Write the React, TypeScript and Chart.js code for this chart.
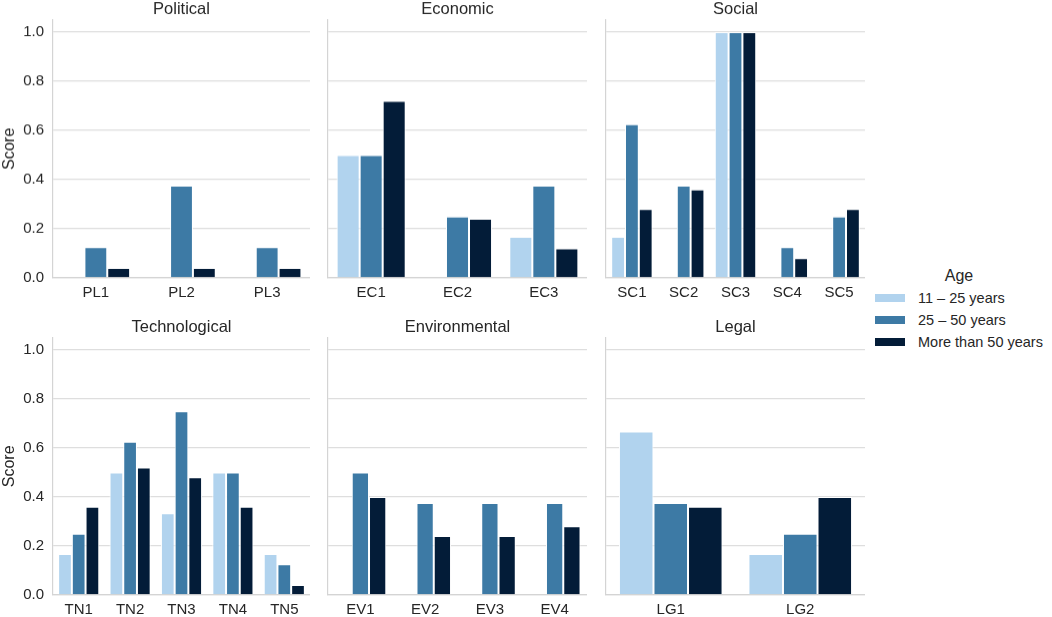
import { useEffect, useRef } from 'react';
import { Chart, registerables } from 'chart.js';

Chart.register(...registerables);

// Age groups (hue) and their colours
const ageGroups = ['11 – 25 years', '25 – 50 years', 'More than 50 years'];
const ageColors = ['#b1d3ee', '#3d7aa5', '#031c38'];

// Political
const plLabels = ['PL1', 'PL2', 'PL3'];
const plYoung = [0, 0, 0];
const plMid = [0.125, 0.375, 0.125];
const plOld = [0.04, 0.04, 0.04];

// Economic
const ecLabels = ['EC1', 'EC2', 'EC3'];
const ecYoung = [0.5, 0, 0.167];
const ecMid = [0.5, 0.25, 0.375];
const ecOld = [0.72, 0.24, 0.12];

// Social
const scLabels = ['SC1', 'SC2', 'SC3', 'SC4', 'SC5'];
const scYoung = [0.167, 0, 1, 0, 0];
const scMid = [0.625, 0.375, 1, 0.125, 0.25];
const scOld = [0.28, 0.36, 1, 0.08, 0.28];

// Technological
const tnLabels = ['TN1', 'TN2', 'TN3', 'TN4', 'TN5'];
const tnYoung = [0.167, 0.5, 0.333, 0.5, 0.167];
const tnMid = [0.25, 0.625, 0.75, 0.5, 0.125];
const tnOld = [0.36, 0.52, 0.48, 0.36, 0.04];

// Environmental
const evLabels = ['EV1', 'EV2', 'EV3', 'EV4'];
const evYoung = [0, 0, 0, 0];
const evMid = [0.5, 0.375, 0.375, 0.375];
const evOld = [0.4, 0.24, 0.24, 0.28];

// Legal
const lgLabels = ['LG1', 'LG2'];
const lgYoung = [0.667, 0.167];
const lgMid = [0.375, 0.25];
const lgOld = [0.36, 0.4];

const yTicks = [0, 0.2, 0.4, 0.6, 0.8, 1.0];

const FONT = "'Liberation Sans', Arial, sans-serif";
const TEXT = '#262626';
const Y_AXIS_W = 53;
const X_AXIS_H = 23;
const TITLE_H = 19.7;

interface PanelProps {
  title: string;
  labels: string[];
  series: number[][];
  showY: boolean;
  left: number;
  top: number;
  plotWidth: number;
  plotHeight: number;
}

function Panel({ title, labels, series, showY, left, top, plotWidth, plotHeight }: PanelProps) {
  const chartRef = useRef<HTMLCanvasElement>(null);

  useEffect(() => {
    if (!chartRef.current) return;
    const chart = new Chart(chartRef.current, {
      type: 'bar',
      data: {
        labels,
        datasets: series.map((values, i) => ({
          label: ageGroups[i],
          data: values,
          backgroundColor: ageColors[i],
          borderColor: '#ffffff',
          borderWidth: 1,
          categoryPercentage: 0.8,
          barPercentage: 1.0,
        })),
      },
      options: {
        animation: false,
        responsive: true,
        maintainAspectRatio: false,
        layout: { padding: 0 },
        plugins: {
          legend: { display: false },
          tooltip: { enabled: false },
          title: {
            display: true,
            fullSize: false,
            text: title,
            color: TEXT,
            font: { family: FONT, size: 16.5, weight: 'normal', lineHeight: 1.19 },
            padding: { top: 0, bottom: 0.1 },
          },
        },
        scales: {
          x: {
            offset: true,
            grid: { display: false, drawTicks: false },
            border: { display: true, color: '#d4d4d4', width: 1.2 },
            ticks: { color: TEXT, font: { family: FONT, size: 15 }, padding: 6 },
            afterFit: (scale: any) => {
              scale.height = X_AXIS_H;
            },
          },
          y: {
            min: 0,
            max: 1.05,
            afterBuildTicks: (scale: any) => {
              scale.ticks = yTicks.map((v) => ({ value: v }));
            },
            grid: { color: '#dedede', lineWidth: 1.2, drawTicks: false },
            border: { display: true, color: '#d4d4d4', width: 1.2 },
            ticks: {
              display: showY,
              color: TEXT,
              font: { family: FONT, size: 15 },
              padding: 9,
              callback: (v: any) => Number(v).toFixed(1),
            },
            title: {
              display: showY,
              text: 'Score',
              color: TEXT,
              font: { family: FONT, size: 16 },
              padding: { top: 0, bottom: 0 },
            },
            afterFit: (scale: any) => {
              scale.width = Y_AXIS_W;
            },
          },
        },
      },
    } as any);
    return () => chart.destroy();
  }, [title, labels, series, showY]);

  return (
    <div
      style={{
        position: 'absolute',
        left: left - Y_AXIS_W,
        top,
        width: Y_AXIS_W + plotWidth,
        height: TITLE_H + plotHeight + X_AXIS_H,
      }}
    >
      <canvas ref={chartRef} />
    </div>
  );
}

function Legend() {
  return (
    <div
      style={{
        position: 'absolute',
        left: 875,
        top: 265,
        fontFamily: FONT,
        fontSize: 14.5,
        color: TEXT,
        whiteSpace: 'nowrap',
      }}
    >
      <div style={{ textAlign: 'center', lineHeight: '22px', fontSize: 16 }}>Age</div>
      {ageGroups.map((g, i) => (
        <div key={g} style={{ display: 'flex', alignItems: 'center', height: 22 }}>
          <span
            style={{
              display: 'inline-block',
              width: 30,
              height: 8,
              background: ageColors[i],
              marginRight: 13,
            }}
          />
          <span>{g}</span>
        </div>
      ))}
    </div>
  );
}

export default function App() {
  const row1Top = 277 - 1.05 * 245 - TITLE_H;
  const row2Top = 594.5 - 1.05 * 245 - TITLE_H;
  const h = 1.05 * 245;
  return (
    <div
      style={{
        position: 'fixed',
        left: 0,
        top: 0,
        width: 1052,
        height: 617,
        background: '#ffffff',
        overflow: 'hidden',
      }}
    >
      <Panel title="Political" labels={plLabels} series={[plYoung, plMid, plOld]} showY
        left={53} top={row1Top} plotWidth={257} plotHeight={h} />
      <Panel title="Economic" labels={ecLabels} series={[ecYoung, ecMid, ecOld]} showY={false}
        left={328} top={row1Top} plotWidth={259} plotHeight={h} />
      <Panel title="Social" labels={scLabels} series={[scYoung, scMid, scOld]} showY={false}
        left={606} top={row1Top} plotWidth={259} plotHeight={h} />
      <Panel title="Technological" labels={tnLabels} series={[tnYoung, tnMid, tnOld]} showY
        left={53} top={row2Top} plotWidth={257} plotHeight={h} />
      <Panel title="Environmental" labels={evLabels} series={[evYoung, evMid, evOld]} showY={false}
        left={328} top={row2Top} plotWidth={259} plotHeight={h} />
      <Panel title="Legal" labels={lgLabels} series={[lgYoung, lgMid, lgOld]} showY={false}
        left={606} top={row2Top} plotWidth={259} plotHeight={h} />
      <Legend />
    </div>
  );
}
